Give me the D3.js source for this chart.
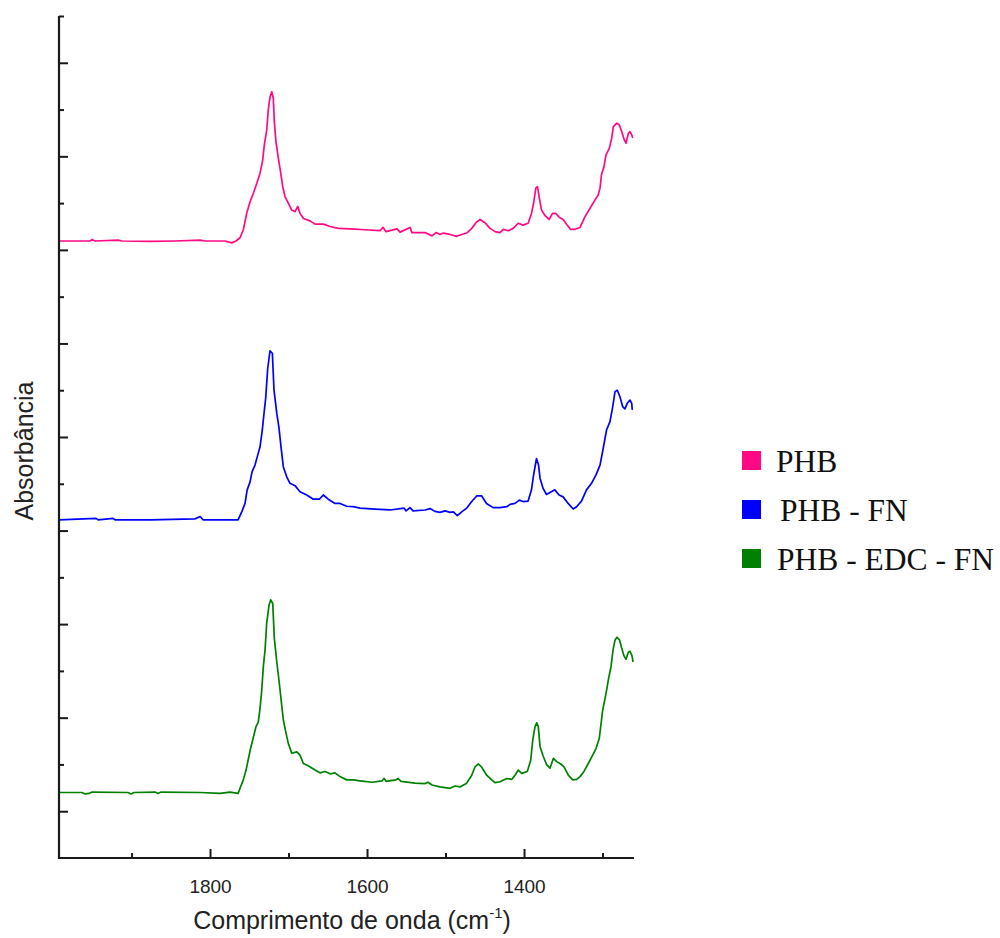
<!DOCTYPE html>
<html>
<head>
<meta charset="utf-8">
<script src="https://cdn.jsdelivr.net/npm/d3@7/dist/d3.min.js"></script>
<style>
  html, body { margin: 0; padding: 0; background: #fff; }
  svg { display: block; }
</style>
</head>
<body>
<svg id="chart" width="1000" height="938"></svg>
<script>
// FTIR spectra (stacked, offset absorbance) for the three samples
const seriesNames = ["PHB", "PHB - FN", "PHB - EDC - FN"];
const seriesColors = ["#ff0a84", "#0000ff", "#008000"];

// PHB
const phbWavenumber = [1992.4,1952.9,1950.3,1946.5,1917.2,1912.1,1876.4,1844.6,1812.7,1806.4,1780.9,1772.4,1766.9,1761.8,1757.6,1753.2,1749.0,1744.8,1740.5,1736.3,1732.9,1730.9,1727.8,1725.8,1723.6,1721.4,1719.4,1718.1,1716.0,1713.0,1709.9,1707.4,1704.5,1700.3,1695.9,1691.7,1688.3,1685.3,1681.1,1672.6,1666.2,1655.7,1647.1,1636.6,1621.6,1602.6,1583.4,1579.6,1575.8,1561.8,1557.9,1545.2,1542.7,1526.1,1517.2,1512.1,1507.0,1502.8,1494.3,1485.7,1479.4,1473.0,1466.6,1460.3,1456.1,1449.7,1443.3,1436.9,1430.6,1426.4,1420.0,1413.9,1407.5,1401.2,1394.8,1390.5,1387.5,1385.0,1382.8,1380.8,1377.7,1373.5,1368.0,1363.7,1359.5,1355.3,1350.2,1345.9,1340.8,1335.0,1328.7,1322.3,1315.9,1309.5,1305.6,1303.2,1301.3,1298.1,1295.6,1291.4,1288.3,1286.3,1281.9,1278.6,1275.6,1272.2,1270.1,1267.1,1265.0,1262.8,1261.6];
const phbAbsorbance = [1.219,1.219,1.222,1.219,1.221,1.219,1.218,1.219,1.221,1.219,1.219,1.215,1.219,1.226,1.243,1.279,1.303,1.321,1.342,1.364,1.392,1.424,1.456,1.499,1.527,1.538,1.524,1.474,1.431,1.396,1.364,1.335,1.314,1.300,1.285,1.282,1.293,1.278,1.267,1.262,1.255,1.255,1.250,1.246,1.245,1.243,1.241,1.248,1.239,1.245,1.238,1.248,1.237,1.237,1.230,1.237,1.233,1.236,1.233,1.229,1.233,1.236,1.246,1.260,1.265,1.258,1.246,1.239,1.237,1.244,1.241,1.246,1.257,1.253,1.257,1.278,1.303,1.332,1.335,1.314,1.285,1.274,1.265,1.278,1.278,1.270,1.265,1.255,1.244,1.244,1.248,1.271,1.289,1.307,1.317,1.332,1.361,1.378,1.403,1.417,1.439,1.463,1.471,1.467,1.453,1.435,1.428,1.449,1.453,1.446,1.439];

// PHB - FN
const phbFnWavenumber = [1992.4,1945.2,1942.7,1923.6,1921.0,1876.4,1819.1,1812.7,1808.9,1787.3,1764.3,1759.6,1755.4,1752.7,1749.0,1746.4,1742.7,1739.8,1736.3,1733.4,1731.2,1729.1,1726.5,1723.6,1720.6,1718.5,1715.0,1712.1,1709.6,1706.6,1702.3,1698.1,1691.7,1685.4,1676.8,1668.4,1660.8,1655.7,1649.4,1640.8,1634.4,1625.9,1617.5,1608.9,1589.8,1570.7,1552.9,1550.3,1545.2,1541.4,1526.1,1519.7,1513.4,1507.0,1500.6,1494.3,1490.0,1484.9,1479.4,1473.0,1466.6,1460.3,1453.9,1447.8,1439.4,1430.6,1422.0,1417.8,1411.5,1406.0,1401.2,1394.8,1390.5,1387.5,1384.1,1381.5,1379.6,1375.7,1371.4,1366.3,1360.8,1355.3,1350.2,1343.8,1337.4,1333.0,1326.8,1320.4,1314.0,1308.3,1303.2,1299.1,1294.9,1290.5,1287.0,1284.1,1281.2,1277.8,1274.4,1271.5,1268.5,1265.0,1262.8,1262.1];
const phbFnAbsorbance = [0.623,0.626,0.623,0.626,0.623,0.623,0.625,0.630,0.623,0.623,0.623,0.640,0.658,0.687,0.704,0.726,0.740,0.758,0.779,0.815,0.851,0.883,0.947,0.984,0.979,0.900,0.851,0.819,0.779,0.736,0.715,0.701,0.696,0.683,0.676,0.667,0.667,0.676,0.667,0.658,0.658,0.652,0.651,0.648,0.646,0.644,0.648,0.642,0.649,0.642,0.644,0.647,0.641,0.639,0.642,0.639,0.640,0.632,0.640,0.648,0.662,0.674,0.674,0.658,0.649,0.649,0.651,0.656,0.658,0.665,0.662,0.663,0.687,0.722,0.754,0.740,0.712,0.690,0.677,0.682,0.687,0.676,0.672,0.658,0.646,0.651,0.663,0.687,0.701,0.719,0.740,0.776,0.815,0.833,0.865,0.897,0.900,0.886,0.865,0.860,0.872,0.879,0.872,0.858];

// PHB - EDC - FN
const phbEdcFnWavenumber = [1992.4,1963.1,1959.2,1954.1,1950.3,1904.5,1900.6,1896.8,1870.1,1866.2,1862.4,1812.7,1787.3,1774.5,1764.2,1761.8,1757.6,1754.1,1751.5,1748.4,1745.1,1741.4,1738.5,1736.3,1734.1,1732.1,1729.9,1727.8,1724.8,1722.7,1720.1,1718.1,1715.0,1711.7,1708.7,1706.6,1703.6,1700.3,1695.9,1689.5,1685.4,1681.1,1675.0,1666.2,1659.9,1653.5,1647.1,1640.8,1634.4,1625.9,1617.5,1608.9,1593.6,1580.9,1578.3,1575.8,1563.1,1560.5,1556.7,1538.9,1526.1,1522.3,1517.2,1507.0,1494.3,1487.9,1481.5,1473.0,1466.6,1462.4,1458.2,1453.9,1447.6,1441.2,1437.0,1430.6,1422.0,1415.7,1411.5,1407.3,1403.0,1395.8,1391.5,1388.9,1386.0,1383.8,1381.8,1379.6,1375.4,1371.1,1366.9,1362.6,1358.3,1353.3,1349.0,1343.6,1338.0,1332.9,1328.7,1323.6,1318.1,1312.5,1308.3,1304.1,1299.8,1295.5,1292.6,1289.1,1286.6,1284.1,1281.5,1278.3,1275.6,1272.6,1270.1,1267.1,1265.0,1262.4,1261.1];
const phbEdcFnAbsorbance = [0.040,0.040,0.037,0.038,0.041,0.040,0.037,0.040,0.041,0.038,0.041,0.040,0.038,0.041,0.038,0.049,0.067,0.088,0.109,0.134,0.156,0.181,0.191,0.220,0.259,0.309,0.345,0.402,0.441,0.452,0.444,0.370,0.320,0.273,0.227,0.195,0.170,0.145,0.124,0.127,0.120,0.102,0.097,0.088,0.082,0.085,0.080,0.082,0.074,0.067,0.067,0.065,0.062,0.065,0.070,0.064,0.067,0.070,0.064,0.060,0.059,0.062,0.056,0.052,0.049,0.054,0.052,0.060,0.077,0.095,0.101,0.094,0.077,0.067,0.061,0.063,0.070,0.068,0.077,0.088,0.081,0.085,0.109,0.152,0.181,0.189,0.181,0.138,0.117,0.099,0.092,0.113,0.106,0.101,0.095,0.077,0.067,0.068,0.074,0.085,0.102,0.120,0.134,0.156,0.216,0.252,0.281,0.310,0.345,0.366,0.372,0.366,0.349,0.332,0.325,0.340,0.342,0.332,0.319];

// Axis ticks
const xMajorTicks = [1800, 1600, 1400];
const xMinorTicks = [1900, 1700, 1500, 1300];
const yMajorTicks = [0, 0.2, 0.4, 0.6, 0.8, 1.0, 1.2, 1.4, 1.6];
const yMinorTicks = [0.1, 0.3, 0.5, 0.7, 0.9, 1.1, 1.3, 1.5, 1.7];

const xLabel = "Comprimento de onda (cm";
const xLabelSup = "-1";
const yLabel = "Absorbância";

const svg = d3.select("#chart");
const plot = { left: 59, right: 634, top: 16, bottom: 858 };

const x = d3.scaleLinear().domain([1992.4, 1259.9]).range([plot.left, plot.right]);
const y = d3.scaleLinear().domain([-0.1, 1.7]).range([plot.bottom, plot.top]);

const series = [
  { name: seriesNames[0], color: seriesColors[0], wn: phbWavenumber, ab: phbAbsorbance },
  { name: seriesNames[1], color: seriesColors[1], wn: phbFnWavenumber, ab: phbFnAbsorbance },
  { name: seriesNames[2], color: seriesColors[2], wn: phbEdcFnWavenumber, ab: phbEdcFnAbsorbance }
];

const line = d3.line().x(d => x(d[0])).y(d => y(d[1]));

svg.append("g").selectAll("path")
  .data(series)
  .join("path")
  .attr("fill", "none")
  .attr("stroke", d => d.color)
  .attr("stroke-width", 1.7)
  .attr("stroke-linejoin", "round")
  .attr("d", d => line(d.wn.map((w, i) => [w, d.ab[i]])));

// Axes: ticks point inward
const axisColor = "#1a1a1a";
const xAxisMajor = d3.axisBottom(x).tickValues(xMajorTicks).tickSize(-9).tickPadding(22).tickFormat(d3.format("d"));
const xAxisMinor = d3.axisBottom(x).tickValues(xMinorTicks).tickSize(-5).tickFormat("");
const yAxisMajor = d3.axisLeft(y).tickValues(yMajorTicks).tickSize(-9).tickFormat("");
const yAxisMinor = d3.axisLeft(y).tickValues(yMinorTicks).tickSize(-5).tickFormat("");

function styleAxis(g) {
  g.select(".domain").remove();
  g.selectAll(".tick line").attr("stroke", axisColor).attr("stroke-width", 2);
  g.selectAll(".tick text").attr("fill", "#222")
    .style("font-family", "'Liberation Sans', Arial, sans-serif").style("font-size", "19px");
}

svg.append("g").attr("transform", `translate(0,${plot.bottom})`).call(xAxisMajor).call(styleAxis);
svg.append("g").attr("transform", `translate(0,${plot.bottom})`).call(xAxisMinor).call(styleAxis);
svg.append("g").attr("transform", `translate(${plot.left},0)`).call(yAxisMajor).call(styleAxis);
svg.append("g").attr("transform", `translate(${plot.left},0)`).call(yAxisMinor).call(styleAxis);

// Axis lines (left and bottom only)
svg.append("path")
  .attr("d", `M${plot.left},${plot.top}V${plot.bottom}H${plot.right}`)
  .attr("fill", "none").attr("stroke", axisColor).attr("stroke-width", 2.2);

// Axis titles
const xt = svg.append("text")
  .attr("x", 352).attr("y", 929)
  .attr("text-anchor", "middle")
  .attr("fill", "#222")
  .style("font-family", "'Liberation Sans', Arial, sans-serif").style("font-size", "25px");
xt.append("tspan").text(xLabel);
xt.append("tspan").attr("dy", -11).style("font-size", "15px").text(xLabelSup);
xt.append("tspan").attr("dy", 11).text(")");

svg.append("text")
  .attr("transform", "translate(33,451) rotate(-90)")
  .attr("text-anchor", "middle")
  .attr("fill", "#222")
  .style("font-family", "'Liberation Sans', Arial, sans-serif").style("font-size", "25px")
  .text(yLabel);

// Legend
const legendY = [451, 500, 549];
const legendTextX = [776, 780, 777];
const legend = svg.append("g");
series.forEach((s, i) => {
  legend.append("rect")
    .attr("x", 742).attr("y", legendY[i])
    .attr("width", 19).attr("height", 19)
    .attr("fill", s.color);
  legend.append("text")
    .attr("x", legendTextX[i]).attr("y", legendY[i] + 21)
    .attr("fill", "#111")
    .style("font-family", "'Liberation Serif', 'Times New Roman', serif").style("font-size", "31.5px")
    .text(s.name);
});
</script>
</body>
</html>
